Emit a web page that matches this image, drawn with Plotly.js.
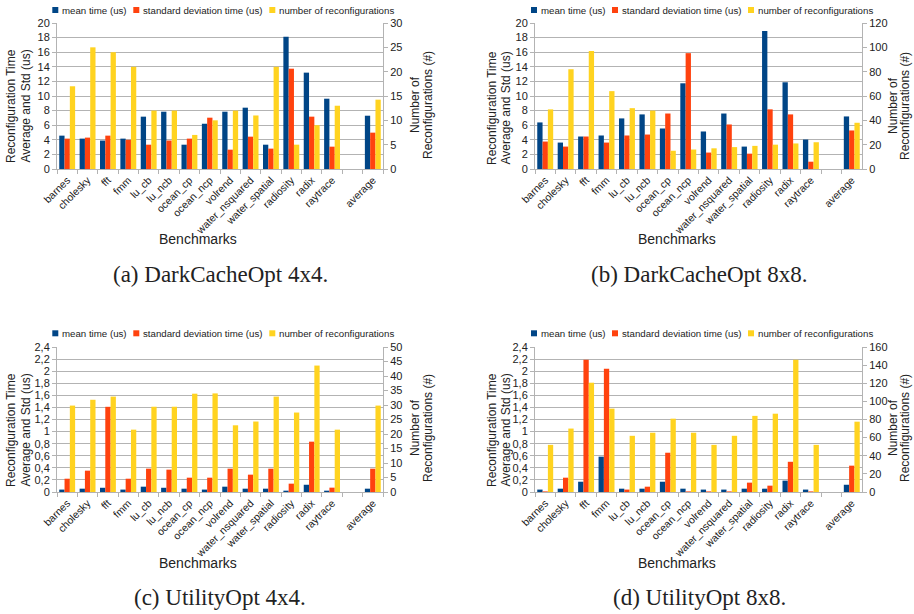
<!DOCTYPE html>
<html><head><meta charset="utf-8">
<script src="https://cdn.plot.ly/plotly-3.0.1.min.js"></script>
<style>html,body{margin:0;padding:0;background:#fff}#chart{width:914px;height:614px}</style>
</head><body><div id="chart"></div>
<script>
// ---- data ----
const benchmarks = ["barnes","cholesky","fft","fmm","lu_cb","lu_ncb","ocean_cp","ocean_ncp","volrend","water_nsquared","water_spatial","radiosity","radix","raytrace"," ","average"];
const seriesNames = ["mean time (us)", "standard deviation time (us)", "number of reconfigurations"];
const captions = ["(a) DarkCacheOpt 4x4.", "(b) DarkCacheOpt 8x8.", "(c) UtilityOpt 4x4.", "(d) UtilityOpt 8x8."];
const leftTitleLines = ["Reconfiguration Time", "Average and Std (us)"];
const rightTitleLines = ["Number of", "Reconfigurations (#)"];
const xTitle = "Benchmarks";

const darkCache4Mean   = [4.57,4.16,3.9,4.16,7.17,7.85,3.33,6.2,7.85,8.4,3.33,18.13,13.2,9.63,null,7.3];
const darkCache4Std    = [4.16,4.3,4.57,4.0,3.33,3.9,4.16,7.03,2.65,4.43,2.79,13.74,7.17,3.06,null,4.98];
const darkCache4Reconf = [17,25,24,21,12,12,7,10,12,11,21,5,9,13,null,14.25];

const darkCache8Mean   = [6.38,3.62,4.45,4.59,6.93,7.48,5.55,11.74,5.14,7.6,3.07,18.9,11.88,4.04,null,7.2];
const darkCache8Std    = [3.76,3.07,4.45,3.62,4.59,4.72,7.6,15.87,2.25,6.1,2.1,8.17,7.48,1.0,null,5.28];
const darkCache8Reconf = [49,82,97,64,50,48,15,16,17,18,19,20,21,22,null,38];

const utility4Mean   = [0.04,0.055,0.07,0.04,0.088,0.07,0.055,0.04,0.088,0.055,0.055,0.022,0.12,0.022,null,0.055];
const utility4Std    = [0.22,0.353,1.41,0.22,0.386,0.37,0.237,0.237,0.386,0.287,0.386,0.138,0.833,0.072,null,0.386];
const utility4Reconf = [29.8,31.8,32.9,21.5,29.4,29.4,33.9,34,23,24.3,32.9,27.4,43.6,21.5,null,29.8];

const utility8Mean   = [0.04,0.055,0.17,0.585,0.055,0.055,0.17,0.055,0.04,0.04,0.055,0.055,0.188,0.04,null,0.12];
const utility8Std    = [0.01,0.237,2.19,2.04,0.04,0.088,0.65,0.01,0.01,0.01,0.155,0.105,0.5,0.01,null,0.436];
const utility8Reconf = [52,70,120.6,92,62,65.4,80.9,65.4,52,62,84,86.4,146,52,null,77.6];

const leftRanges  = [[0,20],[0,20],[0,2.4],[0,2.4]];
const leftDticks  = [2,2,0.2,0.2];
const rightRanges = [[0,30],[0,120],[0,50],[0,160]];
const rightDticks = [5,20,5,20];

// ---- build ----
const panels = [
  [darkCache4Mean, darkCache4Std, darkCache4Reconf],
  [darkCache8Mean, darkCache8Std, darkCache8Reconf],
  [utility4Mean, utility4Std, utility4Reconf],
  [utility8Mean, utility8Std, utility8Reconf]
];
const colors = ["#004586", "#ff420e", "#ffd320"];
const offsets = [-0.39, -0.13, 0.13];
const W = 914, H = 614;
const px = v => v / W, py = v => 1 - v / H;
const xDomains = [[57,383],[535,862],[57,383],[535,862]];
const yDomains = [[169,23],[169,23],[492,347],[492,347]];
// legend row: [left of first symbol, vertical centre]; entry offsets from that left edge
const legendRows = [[52.3,10],[531,10],[52.3,333.3],[531,333.3]];
const legendEntryOffsets = [0, 81, 217];
// per panel: [leftLine1X, leftLine2X, leftBottomY, rightLine1X, rightLine2X, rightCenterY]
const titlePos = [
  [11, 25, 165, 415, 428, 105],
  [492, 505, 167, 893, 905, 106],
  [11, 25, 489, 415, 428, 428],
  [492, 505, 489, 893, 905, 428]
];
const xTitlePos = [[198,239],[677,239],[198,563],[677,563]];
const captionPos = [[220,274],[699,274],[220,597],[699,597]];
const FONT = "Liberation Sans, Arial, sans-serif";
const grey = "#b3b3b3";

const traces = [];
const layout = {
  width: W, height: H,
  margin: {l:0, r:0, t:0, b:0},
  paper_bgcolor: "#fff", plot_bgcolor: "rgba(0,0,0,0)",
  separators: ", ",
  barmode: "group",
  showlegend: false,
  font: {family: FONT, size: 11, color: "#222"},
  annotations: [],
  shapes: []
};

panels.forEach((series, i) => {
  const xid = i === 0 ? "x" : "x" + (i + 1);
  const yl = i === 0 ? "y" : "y" + (2 * i + 1);
  const yr = "y" + (2 * i + 2);
  series.forEach((vals, k) => {
    traces.push({
      type: "bar", name: seriesNames[k], x: benchmarks, y: vals,
      xaxis: xid, yaxis: k === 2 ? yr : yl,
      marker: {color: colors[k], line: {width: 0}},
      width: 0.26, offset: offsets[k], hoverinfo: "skip"
    });
  });
  const xName = i === 0 ? "xaxis" : "xaxis" + (i + 1);
  const ylName = i === 0 ? "yaxis" : "yaxis" + (2 * i + 1);
  const yrName = "yaxis" + (2 * i + 2);
  layout[xName] = {
    domain: [px(xDomains[i][0]), px(xDomains[i][1])],
    anchor: yl, type: "category", categoryorder: "array", categoryarray: benchmarks,
    range: [-0.5, 15.5], tickangle: -45, tickson: "boundaries", ticks: "outside",
    ticklen: 4, tickcolor: grey, showline: true, linecolor: grey, linewidth: 1,
    showgrid: false, zeroline: false, tickfont: {family: FONT, size: 10.5, color: "#222"},
    fixedrange: true
  };
  layout[ylName] = {
    domain: [py(yDomains[i][0]), py(yDomains[i][1])],
    anchor: xid, range: leftRanges[i], dtick: leftDticks[i], tick0: 0,
    showgrid: true, gridcolor: grey, gridwidth: 1, showline: true, linecolor: grey,
    ticks: "outside", ticklen: 4, tickcolor: grey, zeroline: false,
    tickfont: {family: FONT, size: 11, color: "#222"}, fixedrange: true
  };
  layout[yrName] = {
    overlaying: yl, side: "right", anchor: xid,
    range: rightRanges[i], dtick: rightDticks[i], tick0: 0,
    showgrid: false, showline: true, linecolor: grey, ticks: "outside", ticklen: 4,
    tickcolor: grey, zeroline: false,
    tickfont: {family: FONT, size: 11, color: "#222"}, fixedrange: true
  };

  // legend row (coloured key square + series name), as in the original office-chart style
  const lr = legendRows[i];
  seriesNames.forEach((name, k) => {
    const sx = lr[0] + legendEntryOffsets[k];
    layout.shapes.push({type: "rect", xref: "paper", yref: "paper",
      x0: px(sx), x1: px(sx + 6), y0: py(lr[1] + 3), y1: py(lr[1] - 3),
      fillcolor: colors[k], line: {width: 0}});
    layout.annotations.push({text: name, xref: "paper", yref: "paper", showarrow: false,
      x: px(sx + 8), y: py(lr[1]), xanchor: "left", yanchor: "middle",
      font: {family: FONT, size: 9.7, color: "#222"}});
  });

  const tp = titlePos[i];
  const tf = {family: FONT, size: 12, color: "#222"};
  const base = {xref: "paper", yref: "paper", showarrow: false};
  layout.annotations.push(
    Object.assign({text: leftTitleLines[0], textangle: -90, x: px(tp[0]), y: py(tp[2]), font: tf, xanchor: "center", yanchor: "bottom"}, base),
    Object.assign({text: leftTitleLines[1], textangle: -90, x: px(tp[1]), y: py(tp[2]), font: tf, xanchor: "center", yanchor: "bottom"}, base),
    Object.assign({text: rightTitleLines[0], textangle: -90, x: px(tp[3]), y: py(tp[5]), font: tf, xanchor: "center", yanchor: "middle"}, base),
    Object.assign({text: rightTitleLines[1], textangle: -90, x: px(tp[4]), y: py(tp[5]), font: tf, xanchor: "center", yanchor: "middle"}, base),
    Object.assign({text: xTitle, x: px(xTitlePos[i][0]), y: py(xTitlePos[i][1]),
      font: {family: FONT, size: 14, color: "#222"}, xanchor: "center", yanchor: "middle"}, base),
    Object.assign({text: captions[i], x: px(captionPos[i][0]), y: py(captionPos[i][1]),
      font: {family: "Liberation Serif, Times New Roman, serif", size: 23, color: "#222"},
      xanchor: "center", yanchor: "middle"}, base)
  );
});

Plotly.newPlot("chart", traces, layout, {staticPlot: true, displayModeBar: false});
</script>
</body></html>
